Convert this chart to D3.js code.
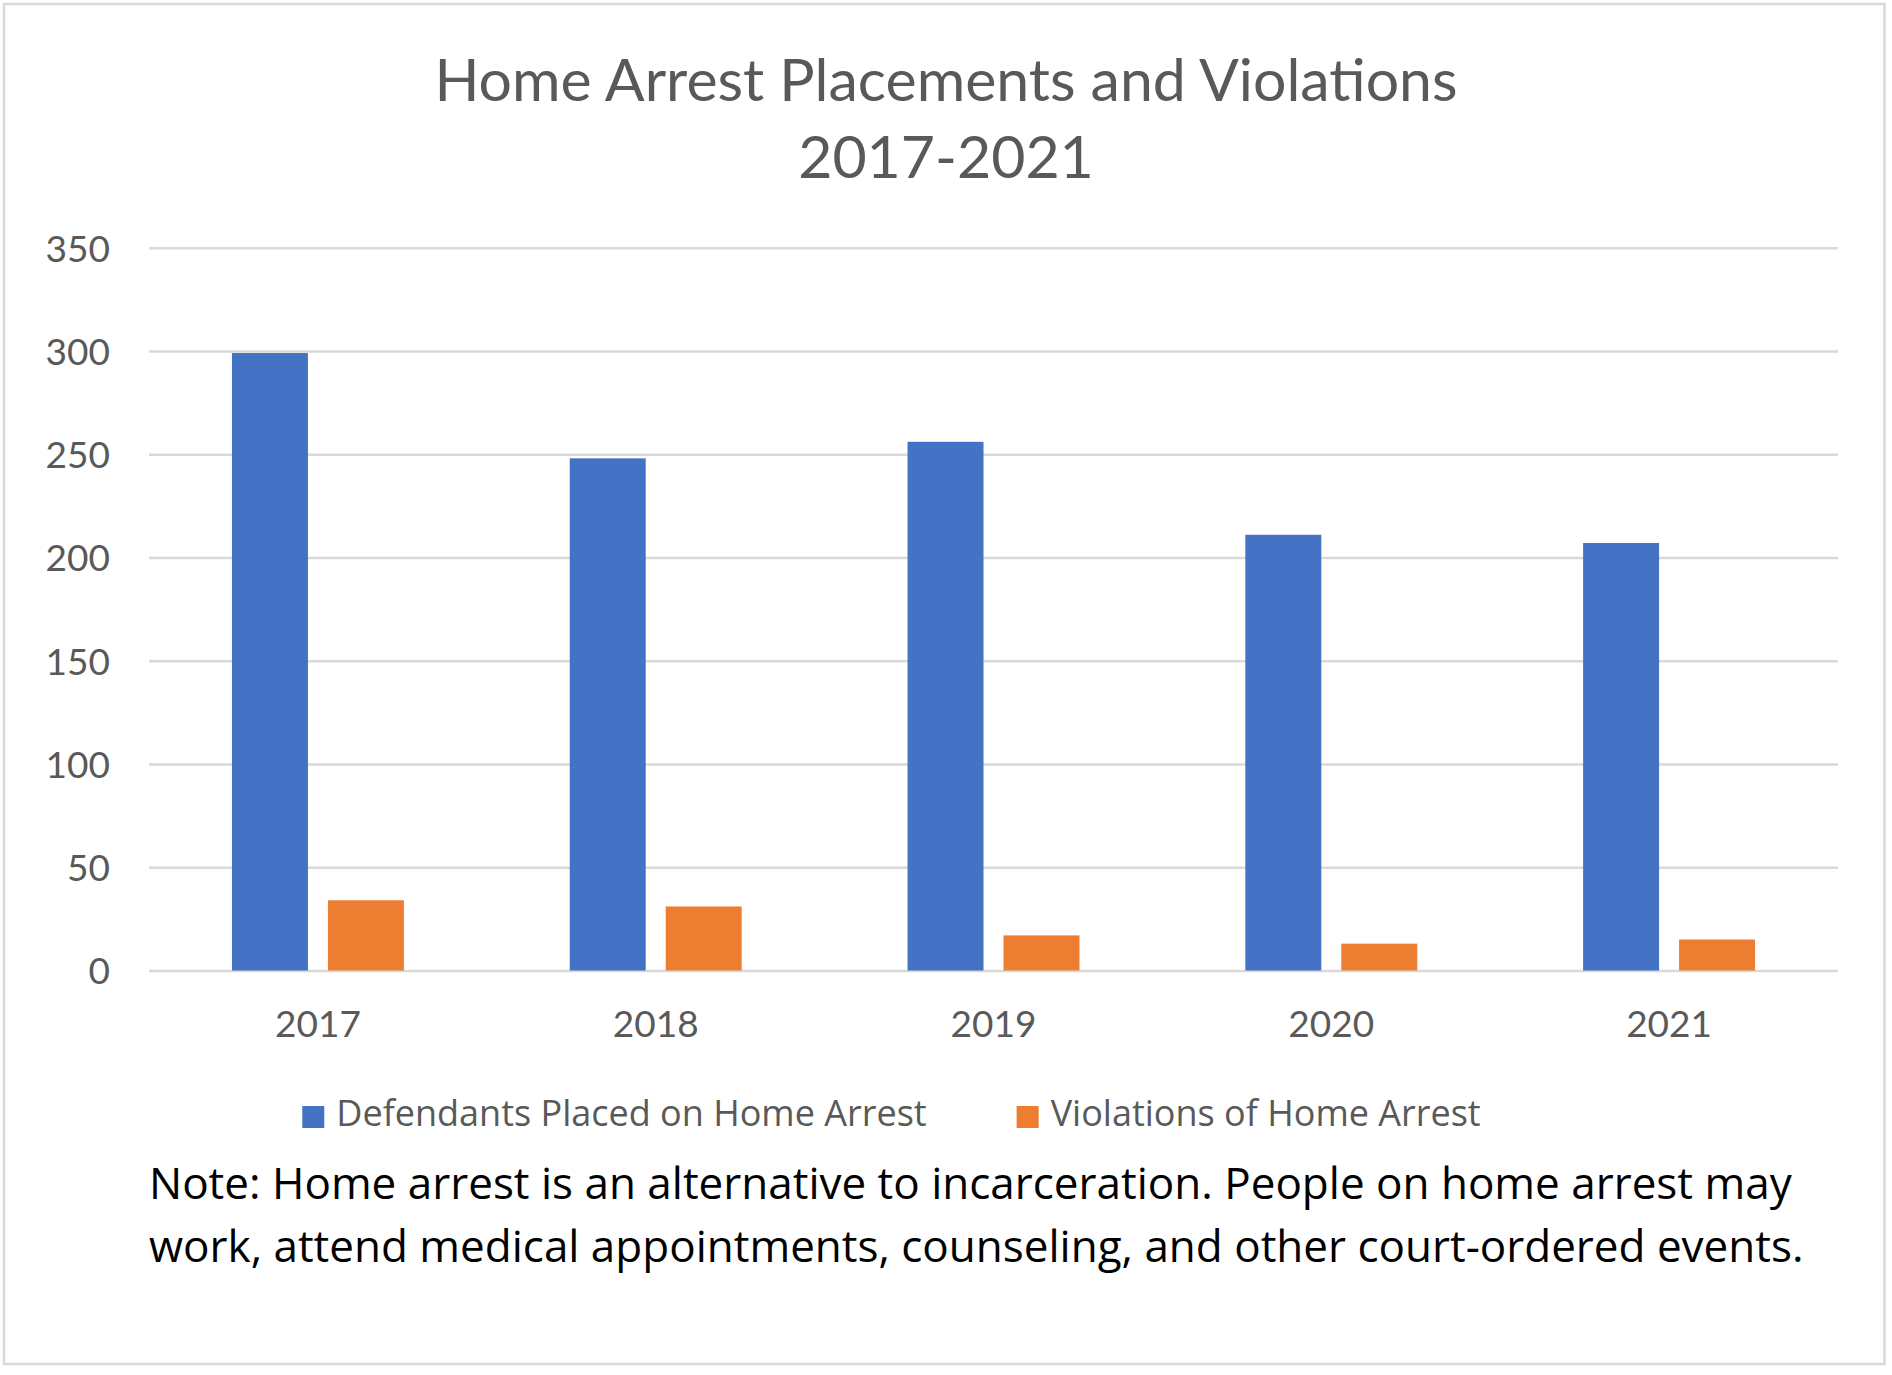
<!DOCTYPE html>
<html>
<head>
<meta charset="utf-8">
<script src="https://cdn.jsdelivr.net/npm/d3@7"></script>
<style>
  body { margin: 0; background: #fff; }
</style>
</head>
<body>
<div id="draw_here"></div>

<script type="text/javascript">
    // Data
    years = ["2017", "2018", "2019", "2020", "2021"]
    placed = [299, 248, 256, 211, 207]
    violations = [34, 31, 17, 13, 15]
    seriesNames = ["Defendants Placed on Home Arrest", "Violations of Home Arrest"]
    yTicks = [0, 50, 100, 150, 200, 250, 300, 350]
    titleLines = ["Home Arrest Placements and Violations", "2017-2021"]
    noteLines = [
        "Note: Home arrest is an alternative to incarceration. People on home arrest may",
        "work, attend medical appointments, counseling, and other court-ordered events."
    ]

    canvas = ({width: 1892, height: 1375})
    plot = ({left: 149, right: 1838, top: 247.7, bottom: 970.5})

    c_blue = "#4472c4"
    c_orange = "#ed7d31"
    c_grid = "#d9d9d9"
    c_text = "#595959"
    colors = [c_blue, c_orange]
    baseFont = "Lato, sans-serif"
    wideFont = "'Open Sans', Lato, sans-serif"

    rows = years.map((y, i) => ({year: y, values: [placed[i], violations[i]]}))

    // Scales
    x0 = d3.scaleBand()
        .domain(years)
        .range([plot.left, plot.right])
        .paddingInner(0.491)
        .paddingOuter(0.2456)

    x1 = d3.scaleBand()
        .domain([0, 1])
        .range([0, x0.bandwidth()])
        .paddingInner(0.2083)

    y = d3.scaleLinear()
        .domain([0, 350])
        .range([plot.bottom, plot.top])

    var svg = d3.select("div#draw_here").append("svg")
        .attr("width", canvas.width)
        .attr("height", canvas.height)
        .attr("viewBox", [0, 0, canvas.width, canvas.height]);

    // chart border
    svg.append("rect")
        .attr("x", 4).attr("y", 4)
        .attr("width", 1880.5).attr("height", 1360)
        .attr("fill", "none")
        .attr("stroke", c_grid)
        .attr("stroke-width", 2.5)

    // Title
    svg.append("g").selectAll("text")
        .data(titleLines)
        .join("text")
        .attr("x", canvas.width / 2)
        .attr("y", (d, i) => 101 + i * 77)
        .attr("text-anchor", "middle")
        .attr("fill", c_text)
        .style("font-family", baseFont)
        .style("font-size", "59px")
        .text(d => d)

    // y axis + gridlines
    yAxis = g => g
        .attr("transform", `translate(${plot.left},0)`)
        .call(d3.axisLeft(y).tickValues(yTicks).tickSize(-(plot.right - plot.left)).tickPadding(39))
        .call(g => g.select(".domain").remove())
        .call(g => g.selectAll(".tick line").attr("stroke", c_grid).attr("stroke-width", 2.5))
        .call(g => g.selectAll(".tick text").attr("fill", c_text).attr("dy", "0.36em")
            .style("font-family", baseFont).style("font-size", "37px"))

    svg.append("g").call(yAxis)

    // x axis labels
    xAxis = g => g
        .attr("transform", `translate(0,${plot.bottom})`)
        .call(d3.axisBottom(x0).tickSize(0).tickPadding(40))
        .call(g => g.select(".domain").remove())
        .call(g => g.selectAll(".tick text").attr("fill", c_text)
            .style("font-family", baseFont).style("font-size", "37px"))

    svg.append("g").call(xAxis)

    // Bars
    svg.append("g").selectAll("g")
        .data(rows)
        .join("g")
        .attr("transform", d => `translate(${x0(d.year)},0)`)
        .selectAll("rect")
        .data(d => d.values.map((v, k) => ({k: k, v: v})))
        .join("rect")
        .attr("x", d => x1(d.k))
        .attr("y", d => y(d.v))
        .attr("width", x1.bandwidth())
        .attr("height", d => y(0) - y(d.v))
        .attr("fill", d => colors[d.k])

    // Legend
    legend = svg.append("g")
    items = legend.selectAll("g")
        .data(seriesNames)
        .join("g")
    items.append("rect")
        .attr("y", 1106).attr("width", 22).attr("height", 22)
        .attr("fill", (d, i) => colors[i])
    items.append("text")
        .attr("x", 34).attr("y", 1126)
        .attr("fill", c_text)
        .style("font-family", wideFont)
        .style("font-size", "36px")
        .text(d => d)
    let lx = 0
    items.each(function () {
        d3.select(this).attr("transform", `translate(${lx},0)`)
        lx += 34 + d3.select(this).select("text").node().getComputedTextLength() + 90
    })
    legendWidth = lx - 90
    legend.attr("transform", `translate(${891.5 - legendWidth / 2},0)`)

    // Note
    svg.append("g").selectAll("text")
        .data(noteLines)
        .join("text")
        .attr("x", plot.left)
        .attr("y", (d, i) => 1199 + i * 63)
        .attr("fill", "#000")
        .style("font-family", wideFont)
        .style("font-size", "44px")
        .text(d => d)
</script>
</body>
</html>
